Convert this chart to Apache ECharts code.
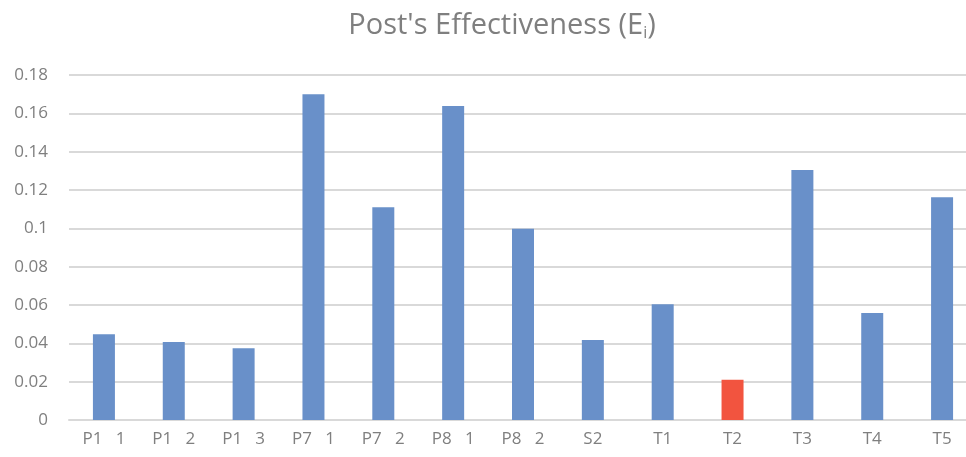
<!DOCTYPE html>
<html>
<head>
<meta charset="utf-8">
<script src="https://cdn.jsdelivr.net/npm/echarts@6/dist/echarts.min.js"></script>
<style>
  html, body { margin: 0; padding: 0; background: #fff; overflow: hidden; }
  #chart { width: 977px; height: 457px; }
</style>
</head>
<body>
<div id="chart"></div>
<script>
// Post categories along the x axis
const categories = ['P1   1', 'P1   2', 'P1   3', 'P7   1', 'P7   2', 'P8   1', 'P8   2', 'S2', 'T1', 'T2', 'T3', 'T4', 'T5'];
// Effectiveness value per post
const effectiveness = [0.0447, 0.0407, 0.0375, 0.1700, 0.1110, 0.1638, 0.0998, 0.0417, 0.0604, 0.0210, 0.1304, 0.0558, 0.1162];
// Post drawn in the accent colour
const highlighted = 'T2';
// Value axis ticks
const yTicks = [0, 0.02, 0.04, 0.06, 0.08, 0.1, 0.12, 0.14, 0.16, 0.18];

const BLUE = '#6990c9';
const RED = '#f2543f';
const TEXT = '#7f7f7f';
const GRID = '#d9d9d9';
const FONT = '"Open Sans", "Liberation Sans", sans-serif';

const chart = echarts.init(document.getElementById('chart'), null, { renderer: 'canvas' });

chart.setOption({
  animation: false,
  backgroundColor: '#ffffff',
  title: {
    text: "{t|Post's Effectiveness (E}{s|i}{t|)}",
    left: 497,
    textAlign: 'center',
    top: 6,
    textStyle: {
      rich: {
        t: { fontFamily: FONT, fontSize: 29, fontWeight: 'normal', color: TEXT },
        s: { fontFamily: FONT, fontSize: 16, fontWeight: 'normal', color: TEXT, verticalAlign: 'bottom', padding: [14, 0, 0, 0] }
      }
    }
  },
  grid: { left: 69, top: 75, bottom: 37, right: 0, containLabel: false },
  xAxis: {
    type: 'category',
    data: categories,
    axisLine: { show: true, lineStyle: { color: GRID, width: 2 } },
    axisTick: { show: false },
    axisLabel: { color: TEXT, fontSize: 17, fontFamily: FONT, margin: 11 }
  },
  yAxis: {
    type: 'value',
    min: yTicks[0],
    max: yTicks[yTicks.length - 1],
    interval: yTicks[1] - yTicks[0],
    axisLine: { show: false },
    axisTick: { show: false },
    splitLine: { lineStyle: { color: GRID, width: 2 } },
    axisLabel: {
      color: TEXT, fontSize: 17, fontFamily: FONT, margin: 21,
      formatter: v => String(Math.round(v * 100) / 100)
    }
  },
  series: [{
    type: 'bar',
    barWidth: 22,
    data: effectiveness.map((v, i) => ({
      value: v,
      itemStyle: { color: categories[i] === highlighted ? RED : BLUE }
    }))
  }]
});
</script>
</body>
</html>
